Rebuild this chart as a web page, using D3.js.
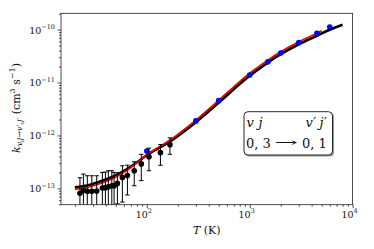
<!DOCTYPE html>
<html>
<head>
<meta charset="utf-8">
<script src="https://cdn.jsdelivr.net/npm/d3@7"></script>
<style>
  body { margin: 0; background: #fff; }
</style>
</head>
<body>
<svg id="chart" width="374" height="249"></svg>
<script>
const width = 374;
const height = 249;
const plot = { left: 61, right: 352.6, top: 13.3, bottom: 204.7 };
const serif = "DejaVu Serif";

// experimental points (black, with error bars)
const expT = [22.4, 24.2, 26.4, 29.2, 32.6, 37, 39.6, 42.3, 45.7, 48.1, 51.8, 57.9, 64.8, 75.5, 88.4, 105, 135.6, 167.8];
const expK = [8.05e-14, 9.2e-14, 8.8e-14, 8.8e-14, 8.9e-14, 1.01e-13, 1.03e-13, 1.07e-13, 1.12e-13, 1.12e-13, 1.24e-13, 1.61e-13, 1.75e-13, 2.15e-13, 2.9e-13, 3.95e-13, 4.73e-13, 6.7e-13];
const expErr = [7.8e-14, 9.4e-14, 8.5e-14, 8.5e-14, 8.4e-14, 9.9e-14, 1.0e-13, 1.08e-13, 1.03e-13, 8.8e-14, 7.3e-14, 1.06e-13, 1.0e-13, 1.03e-13, 1.5e-13, 1.8e-13, 2.0e-13, 2.3e-13];

// computed points (blue)
const calcT = [100, 300, 500, 1000, 1500, 2000, 3000, 4500, 6000];
const calcK = [5.06e-13, 1.88e-12, 4.57e-12, 1.39e-11, 2.45e-11, 3.61e-11, 5.69e-11, 8.5e-11, 1.12e-10];

// fitted curves
const blackT = [20, 28, 40, 55, 70, 86, 100, 170, 300, 500, 700, 1000, 1500, 2000, 3000, 4500, 6000, 8000];
const blackK = [1.045e-13, 1.174e-13, 1.466e-13, 1.944e-13, 2.578e-13, 3.42e-13, 4.25e-13, 7.81e-13, 1.78e-12, 4.16e-12, 7.48e-12, 1.34e-11, 2.37e-11, 3.42e-11, 5.28e-11, 7.64e-11, 9.91e-11, 1.23e-10];
const redT = [20, 28, 40, 55, 70, 86, 100, 170, 300, 500, 700, 1000, 1500, 2000, 3000, 4500, 5000];
const redK = [9.55e-14, 1.07e-13, 1.345e-13, 1.8e-13, 2.46e-13, 3.42e-13, 4.36e-13, 8.3e-13, 1.95e-12, 4.62e-12, 8.3e-12, 1.5e-11, 2.65e-11, 3.82e-11, 5.9e-11, 8.55e-11, 9.45e-11];

// tick labels
const xTicks = [100, 1000, 10000];
const xTickExp = ["2", "3", "4"];
const yTicks = [1e-13, 1e-12, 1e-11, 1e-10];
const yTickExp = ["\u221213", "\u221212", "\u221211", "\u221210"];

const svg = d3.select("#chart");

const xScale = d3.scaleLog()
  .domain([14.66, 1e4])
  .range([plot.left, plot.right]);

const yScale = d3.scaleLog()
  .domain([4.91e-14, 2.03e-10])
  .range([plot.bottom, plot.top]);

// minor ticks
const xMinor = [];
[10, 100, 1000].forEach(d => { for (let m = 2; m <= 9; m++) if (d * m >= 14.66 && d * m < 1e4) xMinor.push(d * m); });
const yMinor = [];
[1e-14, 1e-13, 1e-12, 1e-11, 1e-10].forEach(d => { for (let m = 2; m <= 9; m++) { const v = d * m; if (v >= 4.91e-14 && v <= 2.03e-10) yMinor.push(v); } });

svg.append("defs").append("clipPath")
  .attr("id", "clip")
  .append("rect")
  .attr("x", plot.left).attr("y", plot.top)
  .attr("width", plot.right - plot.left).attr("height", plot.bottom - plot.top);

// Axes
const xAxis = svg.append("g")
  .attr("transform", `translate(0, ${plot.bottom})`)
  .call(d3.axisBottom(xScale).tickValues(xTicks).tickSize(3.5).tickSizeOuter(0).tickFormat(""));
xAxis.append("g").call(d3.axisBottom(xScale).tickValues(xMinor).tickSize(2).tickSizeOuter(0).tickFormat(""));

const yAxis = svg.append("g")
  .attr("transform", `translate(${plot.left}, 0)`)
  .call(d3.axisLeft(yScale).tickValues(yTicks).tickSize(3.5).tickSizeOuter(0).tickFormat(""));
yAxis.append("g").call(d3.axisLeft(yScale).tickValues(yMinor).tickSize(2).tickSizeOuter(0).tickFormat(""));

svg.selectAll(".domain").remove();
svg.selectAll(".tick line").attr("stroke", "#222").attr("stroke-width", 0.8);

function label(x, y, size) {
  return svg.append("text")
    .attr("x", x).attr("y", y)
    .attr("font-family", serif)
    .attr("font-size", size)
    .attr("fill", "#111");
}

// tick labels with superscripts
xTicks.forEach((t, i) => {
  const txt = label(xScale(t) - 3, 217.5, 9.5).attr("text-anchor", "middle").text("10");
  txt.append("tspan").attr("dy", -4.5).attr("font-size", 6.5).text(xTickExp[i]);
});

yTicks.forEach((t, i) => {
  const txt = label(55, yScale(t) + 4, 9.5).attr("text-anchor", "end").text("10");
  txt.append("tspan").attr("dy", -4.5).attr("font-size", 6.5).text(yTickExp[i]);
});

// axis labels
const xl = label((plot.left + plot.right) / 2, 233.5, 11).attr("text-anchor", "middle");
xl.append("tspan").attr("font-style", "italic").text("T");
xl.append("tspan").text(" (K)");

const yl = label(0, 0, 11)
  .attr("transform", `translate(19.5, ${(plot.top + plot.bottom) / 2 - 1}) rotate(-90)`)
  .attr("text-anchor", "middle");
yl.append("tspan").attr("font-style", "italic").text("k");
yl.append("tspan").attr("font-style", "italic").attr("font-size", 8).attr("dy", 2.5).text("v,j\u2192v");
yl.append("tspan").attr("font-size", 8).text("\u2032");
yl.append("tspan").attr("font-style", "italic").attr("font-size", 8).text(",j");
yl.append("tspan").attr("font-size", 8).text("\u2032");
yl.append("tspan").attr("dy", -2.5).text(" (cm");
yl.append("tspan").attr("font-size", 8).attr("dy", -4.5).text("3");
yl.append("tspan").attr("dy", 4.5).text(" s");
yl.append("tspan").attr("font-size", 8).attr("dy", -4.5).text("\u22121");
yl.append("tspan").attr("dy", 4.5).text(")");

// plot content
const content = svg.append("g").attr("clip-path", "url(#clip)");

const line = d3.line()
  .x(d => xScale(d[0]))
  .y(d => yScale(d[1]))
  .curve(d3.curveCatmullRom.alpha(0.5));

content.append("path")
  .datum(blackT.map((t, i) => [t, blackK[i]]))
  .attr("d", line)
  .attr("fill", "none")
  .attr("stroke", "#000")
  .attr("stroke-width", 2.6);

content.append("path")
  .datum(redT.map((t, i) => [t, redK[i]]))
  .attr("d", line)
  .attr("fill", "none")
  .attr("stroke", "#f00000")
  .attr("stroke-width", 1.7);

content.selectAll(".calc")
  .data(calcT.map((t, i) => [t, calcK[i]]))
  .enter()
  .append("circle")
  .attr("class", "calc")
  .attr("cx", d => xScale(d[0]))
  .attr("cy", d => yScale(d[1]))
  .attr("r", 2.8)
  .attr("fill", "#0000ff");

// error bars
const expData = expT.map((t, i) => ({ t: t, k: expK[i], e: expErr[i] }));
const capW = 2.2;
const eb = content.selectAll(".err")
  .data(expData)
  .enter()
  .append("g")
  .attr("class", "err")
  .attr("stroke", "#000")
  .attr("stroke-width", 1);

const lowY = d => d.k - d.e > 0 ? yScale(d.k - d.e) : plot.bottom + 5;

eb.append("line")
  .attr("x1", d => xScale(d.t)).attr("x2", d => xScale(d.t))
  .attr("y1", d => yScale(d.k + d.e))
  .attr("y2", lowY);
eb.append("line")
  .attr("x1", d => xScale(d.t) - capW).attr("x2", d => xScale(d.t) + capW)
  .attr("y1", d => yScale(d.k + d.e)).attr("y2", d => yScale(d.k + d.e));
eb.append("line")
  .attr("x1", d => xScale(d.t) - capW).attr("x2", d => xScale(d.t) + capW)
  .attr("y1", lowY).attr("y2", lowY);

content.selectAll(".exp")
  .data(expData)
  .enter()
  .append("circle")
  .attr("class", "exp")
  .attr("cx", d => xScale(d.t))
  .attr("cy", d => yScale(d.k))
  .attr("r", 2.8)
  .attr("fill", "#000");

// frame
svg.append("rect")
  .attr("x", plot.left).attr("y", plot.top)
  .attr("width", plot.right - plot.left).attr("height", plot.bottom - plot.top)
  .attr("fill", "none")
  .attr("stroke", "#222")
  .attr("stroke-width", 0.8);

// annotation box
const box = svg.append("g");
box.append("rect")
  .attr("x", 245.5).attr("y", 113)
  .attr("width", 88.5).attr("height", 43.5)
  .attr("rx", 4)
  .attr("fill", "#999");
box.append("rect")
  .attr("x", 244).attr("y", 111.7)
  .attr("width", 88.5).attr("height", 43.3)
  .attr("rx", 4)
  .attr("fill", "#fff")
  .attr("stroke", "#111")
  .attr("stroke-width", 0.9);

const labelFont = 13;
[["v", 246.5, false], ["j", 258.5, false], ["v", 305.5, true], ["j", 319.5, true]].forEach(p => {
  const t = label(p[1], 126.5, labelFont);
  t.append("tspan").attr("font-style", "italic").text(p[0]);
  if (p[2]) t.append("tspan").attr("dx", 0.5).text("\u2032");
});
label(246, 147.5, labelFont).text("0, 3");
label(302, 147.5, labelFont).text("0, 1");
label(274.5, 146.5, labelFont)
  .attr("textLength", 23.5)
  .attr("lengthAdjust", "spacingAndGlyphs")
  .text("\u2192");
</script>
</body>
</html>
